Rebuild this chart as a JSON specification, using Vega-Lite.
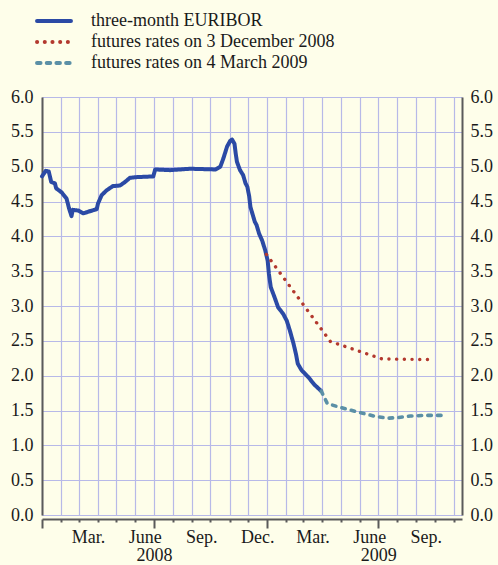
{
  "$schema": "https://vega.github.io/schema/vega-lite/v6.json",
  "width": 420,
  "height": 418,
  "autosize": {"type": "none"},
  "padding": {"left": 42, "top": 97, "right": 36, "bottom": 50},
  "background": "#fefeea",
  "config": {
    "view": {"stroke": null},
    "axis": {
      "labelFont": "Liberation Serif",
      "labelFontSize": 18,
      "labelColor": "#1a1a1a",
      "title": null,
      "domainColor": "#5a5a5a",
      "domainWidth": 2,
      "tickColor": "#5a5a5a",
      "tickWidth": 2,
      "gridColor": "#b7b9e8",
      "gridWidth": 1.2,
      "gridOpacity": 1
    },
    "legend": {
      "labelFont": "Liberation Serif",
      "labelFontSize": 18,
      "labelColor": "#1a1a1a",
      "labelLimit": 400
    }
  },
  "datasets": {
    "euribor": [
      {"date": "2008-01-01", "rate": 4.86, "series": "three-month EURIBOR"},
      {"date": "2008-01-07", "rate": 4.94, "series": "three-month EURIBOR"},
      {"date": "2008-01-12", "rate": 4.93, "series": "three-month EURIBOR"},
      {"date": "2008-01-16", "rate": 4.78, "series": "three-month EURIBOR"},
      {"date": "2008-01-22", "rate": 4.76, "series": "three-month EURIBOR"},
      {"date": "2008-01-24", "rate": 4.69, "series": "three-month EURIBOR"},
      {"date": "2008-02-02", "rate": 4.63, "series": "three-month EURIBOR"},
      {"date": "2008-02-10", "rate": 4.54, "series": "three-month EURIBOR"},
      {"date": "2008-02-14", "rate": 4.40, "series": "three-month EURIBOR"},
      {"date": "2008-02-18", "rate": 4.29, "series": "three-month EURIBOR"},
      {"date": "2008-02-20", "rate": 4.38, "series": "three-month EURIBOR"},
      {"date": "2008-02-29", "rate": 4.37, "series": "three-month EURIBOR"},
      {"date": "2008-03-08", "rate": 4.33, "series": "three-month EURIBOR"},
      {"date": "2008-03-19", "rate": 4.36, "series": "three-month EURIBOR"},
      {"date": "2008-03-30", "rate": 4.39, "series": "three-month EURIBOR"},
      {"date": "2008-04-01", "rate": 4.47, "series": "three-month EURIBOR"},
      {"date": "2008-04-07", "rate": 4.59, "series": "three-month EURIBOR"},
      {"date": "2008-04-15", "rate": 4.66, "series": "three-month EURIBOR"},
      {"date": "2008-04-25", "rate": 4.72, "series": "three-month EURIBOR"},
      {"date": "2008-05-07", "rate": 4.73, "series": "three-month EURIBOR"},
      {"date": "2008-05-15", "rate": 4.78, "series": "three-month EURIBOR"},
      {"date": "2008-05-23", "rate": 4.84, "series": "three-month EURIBOR"},
      {"date": "2008-06-03", "rate": 4.85, "series": "three-month EURIBOR"},
      {"date": "2008-06-30", "rate": 4.86, "series": "three-month EURIBOR"},
      {"date": "2008-07-03", "rate": 4.96, "series": "three-month EURIBOR"},
      {"date": "2008-07-27", "rate": 4.95, "series": "three-month EURIBOR"},
      {"date": "2008-08-29", "rate": 4.97, "series": "three-month EURIBOR"},
      {"date": "2008-10-09", "rate": 4.96, "series": "three-month EURIBOR"},
      {"date": "2008-10-17", "rate": 5.00, "series": "three-month EURIBOR"},
      {"date": "2008-10-22", "rate": 5.12, "series": "three-month EURIBOR"},
      {"date": "2008-10-28", "rate": 5.29, "series": "three-month EURIBOR"},
      {"date": "2008-11-02", "rate": 5.37, "series": "three-month EURIBOR"},
      {"date": "2008-11-05", "rate": 5.39, "series": "three-month EURIBOR"},
      {"date": "2008-11-09", "rate": 5.33, "series": "three-month EURIBOR"},
      {"date": "2008-11-11", "rate": 5.19, "series": "three-month EURIBOR"},
      {"date": "2008-11-13", "rate": 5.07, "series": "three-month EURIBOR"},
      {"date": "2008-11-18", "rate": 4.95, "series": "three-month EURIBOR"},
      {"date": "2008-11-23", "rate": 4.88, "series": "three-month EURIBOR"},
      {"date": "2008-11-27", "rate": 4.76, "series": "three-month EURIBOR"},
      {"date": "2008-11-30", "rate": 4.71, "series": "three-month EURIBOR"},
      {"date": "2008-12-03", "rate": 4.57, "series": "three-month EURIBOR"},
      {"date": "2008-12-05", "rate": 4.42, "series": "three-month EURIBOR"},
      {"date": "2008-12-08", "rate": 4.33, "series": "three-month EURIBOR"},
      {"date": "2008-12-12", "rate": 4.21, "series": "three-month EURIBOR"},
      {"date": "2008-12-15", "rate": 4.16, "series": "three-month EURIBOR"},
      {"date": "2008-12-19", "rate": 4.04, "series": "three-month EURIBOR"},
      {"date": "2008-12-24", "rate": 3.94, "series": "three-month EURIBOR"},
      {"date": "2008-12-29", "rate": 3.80, "series": "three-month EURIBOR"},
      {"date": "2009-01-02", "rate": 3.65, "series": "three-month EURIBOR"},
      {"date": "2009-01-04", "rate": 3.46, "series": "three-month EURIBOR"},
      {"date": "2009-01-07", "rate": 3.27, "series": "three-month EURIBOR"},
      {"date": "2009-01-13", "rate": 3.13, "series": "three-month EURIBOR"},
      {"date": "2009-01-19", "rate": 2.98, "series": "three-month EURIBOR"},
      {"date": "2009-01-27", "rate": 2.89, "series": "three-month EURIBOR"},
      {"date": "2009-02-02", "rate": 2.79, "series": "three-month EURIBOR"},
      {"date": "2009-02-07", "rate": 2.65, "series": "three-month EURIBOR"},
      {"date": "2009-02-13", "rate": 2.46, "series": "three-month EURIBOR"},
      {"date": "2009-02-17", "rate": 2.31, "series": "three-month EURIBOR"},
      {"date": "2009-02-20", "rate": 2.17, "series": "three-month EURIBOR"},
      {"date": "2009-02-26", "rate": 2.08, "series": "three-month EURIBOR"},
      {"date": "2009-03-09", "rate": 1.98, "series": "three-month EURIBOR"},
      {"date": "2009-03-19", "rate": 1.87, "series": "three-month EURIBOR"},
      {"date": "2009-03-30", "rate": 1.78, "series": "three-month EURIBOR"}
    ],
    "dec": [
      {"date": "2008-12-31", "rate": 3.74, "series": "futures rates on 3 December 2008"},
      {"date": "2009-04-14", "rate": 2.49, "series": "futures rates on 3 December 2008"},
      {"date": "2009-07-07", "rate": 2.24, "series": "futures rates on 3 December 2008"},
      {"date": "2009-10-01", "rate": 2.23, "series": "futures rates on 3 December 2008"}
    ],
    "mar": [
      {"date": "2009-03-30", "rate": 1.78, "series": "futures rates on 4 March 2009"},
      {"date": "2009-04-09", "rate": 1.60, "series": "futures rates on 4 March 2009"},
      {"date": "2009-04-24", "rate": 1.56, "series": "futures rates on 4 March 2009"},
      {"date": "2009-05-27", "rate": 1.48, "series": "futures rates on 4 March 2009"},
      {"date": "2009-06-29", "rate": 1.41, "series": "futures rates on 4 March 2009"},
      {"date": "2009-07-18", "rate": 1.39, "series": "futures rates on 4 March 2009"},
      {"date": "2009-08-03", "rate": 1.40, "series": "futures rates on 4 March 2009"},
      {"date": "2009-08-22", "rate": 1.42, "series": "futures rates on 4 March 2009"},
      {"date": "2009-09-13", "rate": 1.43, "series": "futures rates on 4 March 2009"},
      {"date": "2009-10-15", "rate": 1.43, "series": "futures rates on 4 March 2009"}
    ]
  },
  "layer": [
    {
      "data": {"name": "euribor"},
      "mark": {"type": "line", "strokeWidth": 4, "strokeCap": "round", "strokeJoin": "round"},
      "encoding": {
        "x": {
          "field": "date", "type": "temporal",
          "scale": {"type": "utc", "domain": [{"year": 2008, "month": 1, "date": 1, "utc": true}, {"year": 2009, "month": 11, "date": 14, "utc": true}]},
          "axis": {
            "orient": "bottom",
            "offset": 4,
            "labels": false,
            "ticks": true,
            "grid": true,
            "tickSize": {"condition": {"test": "utcmonth(datum.value) % 6 == 0", "value": 9}, "value": 3},
            "values": [
              {"year": 2008, "month": 1, "date": 1, "utc": true},
              {"year": 2008, "month": 2, "date": 1, "utc": true},
              {"year": 2008, "month": 3, "date": 1, "utc": true},
              {"year": 2008, "month": 4, "date": 1, "utc": true},
              {"year": 2008, "month": 5, "date": 1, "utc": true},
              {"year": 2008, "month": 6, "date": 1, "utc": true},
              {"year": 2008, "month": 7, "date": 1, "utc": true},
              {"year": 2008, "month": 8, "date": 1, "utc": true},
              {"year": 2008, "month": 9, "date": 1, "utc": true},
              {"year": 2008, "month": 10, "date": 1, "utc": true},
              {"year": 2008, "month": 11, "date": 1, "utc": true},
              {"year": 2008, "month": 12, "date": 1, "utc": true},
              {"year": 2009, "month": 1, "date": 1, "utc": true},
              {"year": 2009, "month": 2, "date": 1, "utc": true},
              {"year": 2009, "month": 3, "date": 1, "utc": true},
              {"year": 2009, "month": 4, "date": 1, "utc": true},
              {"year": 2009, "month": 5, "date": 1, "utc": true},
              {"year": 2009, "month": 6, "date": 1, "utc": true},
              {"year": 2009, "month": 7, "date": 1, "utc": true},
              {"year": 2009, "month": 8, "date": 1, "utc": true},
              {"year": 2009, "month": 9, "date": 1, "utc": true},
              {"year": 2009, "month": 10, "date": 1, "utc": true},
              {"year": 2009, "month": 11, "date": 1, "utc": true}
            ]
          }
        },
        "y": {
          "field": "rate", "type": "quantitative",
          "scale": {"domain": [0, 6], "nice": false},
          "axis": {
            "orient": "left",
            "values": [0, 0.5, 1, 1.5, 2, 2.5, 3, 3.5, 4, 4.5, 5, 5.5, 6],
            "format": ".1f",
            "ticks": false,
            "grid": true,
            "labelPadding": 9
          }
        },
        "color": {
          "field": "series", "type": "nominal",
          "scale": {
            "domain": ["three-month EURIBOR", "futures rates on 3 December 2008", "futures rates on 4 March 2009"],
            "range": ["#2b4aa5", "#b3392e", "#5b90a6"]
          },
          "legend": {
            "title": null,
            "orient": "none",
            "legendX": 3,
            "legendY": -85,
            "symbolType": "M-3,0H3",
            "symbolSize": 128,
            "symbolStrokeWidth": 4,
            "labelOffset": 28,
            "rowPadding": 3,
            "padding": 0,
            "encode": {"symbols": {"update": {"strokeCap": {"value": "round"}}}}
          }
        },
        "strokeDash": {
          "field": "series", "type": "nominal",
          "scale": {
            "domain": ["three-month EURIBOR", "futures rates on 3 December 2008", "futures rates on 4 March 2009"],
            "range": [[1, 0], [0.1, 7.6], [3.5, 6.2]]
          },
          "legend": {
            "title": null,
            "orient": "none",
            "legendX": 3,
            "legendY": -85,
            "symbolType": "M-3,0H3",
            "symbolSize": 128,
            "symbolStrokeWidth": 4,
            "labelOffset": 28,
            "rowPadding": 3,
            "padding": 0,
            "encode": {"symbols": {"update": {"strokeCap": {"value": "round"}}}}
          }
        }
      }
    },
    {
      "data": {"name": "dec"},
      "mark": {"type": "line", "strokeWidth": 3.4, "strokeCap": "round"},
      "encoding": {
        "x": {
          "field": "date", "type": "temporal",
          "axis": {
            "orient": "bottom",
            "offset": 4,
            "ticks": false,
            "domain": false,
            "grid": false,
            "labelPadding": 9,
            "labelExpr": "['Jan.','Feb.','Mar.','Apr.','May','June','July','Aug.','Sep.','Oct.','Nov.','Dec.'][utcmonth(datum.value)]",
            "values": [
              {"year": 2008, "month": 3, "date": 16, "utc": true},
              {"year": 2008, "month": 6, "date": 16, "utc": true},
              {"year": 2008, "month": 9, "date": 16, "utc": true},
              {"year": 2008, "month": 12, "date": 16, "utc": true},
              {"year": 2009, "month": 3, "date": 16, "utc": true},
              {"year": 2009, "month": 6, "date": 16, "utc": true},
              {"year": 2009, "month": 9, "date": 16, "utc": true}
            ]
          }
        },
        "y": {
          "field": "rate", "type": "quantitative",
          "axis": {
            "orient": "right",
            "values": [0, 0.5, 1, 1.5, 2, 2.5, 3, 3.5, 4, 4.5, 5, 5.5, 6],
            "format": ".1f",
            "ticks": false,
            "grid": false,
            "labelPadding": 8
          }
        },
        "color": {"field": "series", "type": "nominal"},
        "strokeDash": {"field": "series", "type": "nominal"}
      }
    },
    {
      "data": {"name": "mar"},
      "mark": {"type": "line", "strokeWidth": 3.6, "strokeCap": "round"},
      "encoding": {
        "x": {
          "field": "date", "type": "temporal",
          "axis": {
            "orient": "bottom",
            "offset": 4,
            "ticks": false,
            "domain": false,
            "grid": false,
            "labelPadding": 27,
            "labelExpr": "utcFormat(datum.value, '%Y')",
            "values": [
              {"year": 2008, "month": 7, "date": 1, "utc": true},
              {"year": 2009, "month": 7, "date": 1, "utc": true}
            ]
          }
        },
        "y": {"field": "rate", "type": "quantitative", "axis": null},
        "color": {"field": "series", "type": "nominal"},
        "strokeDash": {"field": "series", "type": "nominal"}
      }
    }
  ],
  "resolve": {"axis": {"x": "independent", "y": "independent"}}
}
